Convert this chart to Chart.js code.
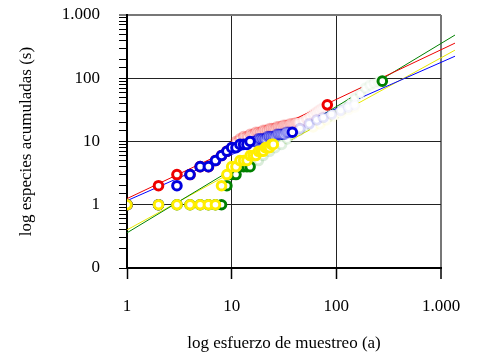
<!DOCTYPE html>
<html>
<head>
<meta charset="utf-8">
<script src="https://cdn.jsdelivr.net/npm/chart.js@4"></script>
<style>
  html, body { margin: 0; padding: 0; background: #fff; }
  #chart { display: block; }
</style>
</head>
<body>
<canvas id="chart" width="477" height="356"></canvas>
<script>
// ticks de los ejes
const xTickValues = [1, 10, 100, 1000];
const xTickLabels = ['1', '10', '100', '1.000'];
const yTickValues = [0.1, 1, 10, 100, 1000];
const yTickLabels = ['0', '1', '10', '100', '1.000'];

// serie roja
const redX = [1, 2, 3, 4, 5, 6, 7, 8, 9, 82];
const redY = [1, 2, 3, 3, 4, 4, 5, 6, 7, 38];
const redFadeX = [10, 11, 12, 13, 14, 15, 16, 17, 18, 19, 20, 21, 22, 23, 24, 25, 26, 27, 28, 29, 30, 31, 32, 33, 34, 35, 36, 37, 38, 39, 40, 41, 42, 43, 44, 48, 52, 56, 60, 64, 68, 72, 76, 80];
const redFadeY = [8, 10, 11, 12, 12, 13, 13, 14, 14, 14, 15, 15, 15, 16, 16, 16, 16, 17, 17, 17, 17, 18, 18, 18, 18, 18, 19, 19, 19, 19, 19, 20, 20, 20, 20, 21, 23, 25, 27, 29, 31, 33, 35, 37];
const redFitX = [1, 1360];
const redFitY = [1.25, 359];

// serie azul
const blueX = [1, 2, 3, 4, 5, 6, 7, 8, 9, 10, 11, 12, 13, 14, 15, 38];
const blueY = [1, 1, 2, 3, 4, 4, 5, 6, 7, 8, 8, 9, 9, 9, 10, 14];
const blueFadeX = [16, 17, 18, 19, 20, 21, 22, 23, 24, 25, 26, 27, 28, 29, 30, 31, 32, 33, 34, 35, 36, 37, 45, 55, 65, 75, 90, 110, 130, 150];
const blueFadeY = [10, 10, 11, 11, 11, 11, 12, 12, 12, 12, 12, 13, 13, 13, 13, 13, 13, 14, 14, 14, 14, 14, 16, 19, 22, 24, 27, 31, 35, 38];
const blueFitX = [1, 1360];
const blueFitY = [1.16, 223];

// serie verde
const greenX = [1, 2, 3, 4, 5, 6, 7, 8, 9, 10, 11, 12, 13, 14, 15, 275];
const greenY = [1, 1, 1, 1, 1, 1, 1, 1, 2, 3, 3, 4, 4, 4, 4, 90];
const greenFadeX = [16, 18, 20, 23, 26, 30, 34, 38, 44, 50, 58, 66, 75, 85, 96, 108, 120, 135, 150, 170, 190, 210, 230, 250, 265];
const greenFadeY = [5, 5, 6, 7, 8, 9, 11, 13, 15, 17, 19, 21, 23, 25, 27, 30, 34, 40, 48, 57, 70, 78, 84, 88, 89];
const greenFitX = [1, 1360];
const greenFitY = [0.36, 482];

// serie amarilla
const yellowX = [1, 2, 3, 4, 5, 6, 7, 8, 9, 10, 11, 12, 13, 14, 15, 16, 17, 18, 19, 20, 21, 22, 23, 24, 25];
const yellowY = [1, 1, 1, 1, 1, 1, 1, 2, 3, 4, 4, 5, 5, 5, 6, 6, 6, 7, 7, 7, 8, 8, 8, 9, 9];
const yellowFadeX = [60, 70, 80, 95, 110, 130, 150];
const yellowFadeY = [17, 19, 22, 25, 28, 32, 35];
const yellowFitX = [1, 1360];
const yellowFitY = [0.40, 278];

function pts(xs, ys) {
    return xs.map((x, i) => ({ x: x, y: ys[i] }));
}

// color que se desvanece a lo largo de la serie
function fade(rgb, a0, a1) {
    return function(ctx) {
        const n = ctx.dataset.data.length;
        const i = ctx.dataIndex || 0;
        const t = n > 1 ? i / (n - 1) : 0;
        return 'rgba(' + rgb + ',' + (a0 + (a1 - a0) * t) + ')';
    };
}

function solid(data, color, order) {
    return {
        data: data,
        borderColor: color,
        backgroundColor: '#ffffff',
        pointRadius: 4.3,
        borderWidth: 3,
        order: order
    };
}

function faded(data, rgb, a0, a1, order) {
    return {
        data: data,
        borderColor: fade(rgb, a0, a1),
        backgroundColor: '#ffffff',
        pointRadius: 4.3,
        borderWidth: 3,
        order: order
    };
}

function fit(data, color) {
    return {
        data: data,
        showLine: true,
        borderColor: color,
        borderWidth: 1,
        pointRadius: 0,
        clip: false,
        order: 20
    };
}

function sameValue(a, b) {
    return Math.abs(Math.log10(a) - Math.log10(b)) < 1e-6;
}

Chart.defaults.font.family = "'Liberation Serif', 'Times New Roman', serif";
Chart.defaults.font.size = 17;
Chart.defaults.color = '#000';

const ctx = document.getElementById('chart');
new Chart(ctx.getContext('2d'), {
    type: 'scatter',
    data: {
        datasets: [
            fit(pts(redFitX, redFitY), '#ee0000'),
            fit(pts(blueFitX, blueFitY), '#0000ff'),
            fit(pts(greenFitX, greenFitY), '#008000'),
            fit(pts(yellowFitX, yellowFitY), '#e8e800'),
            faded(pts(greenFadeX, greenFadeY), '0,128,0', 0.15, 0.03, 12),
            faded(pts(yellowFadeX, yellowFadeY), '255,235,0', 0.08, 0.03, 11),
            faded(pts(redFadeX, redFadeY), '238,0,0', 0.3, 0.03, 10),
            faded(pts(blueFadeX, blueFadeY), '0,0,220', 0.6, 0.02, 9),
            solid(pts(redX, redY), '#ee0000', 4),
            solid(pts(greenX, greenY), '#008000', 3),
            solid(pts(blueX, blueY), '#0000dd', 2),
            solid(pts(yellowX, yellowY), '#ffee00', 1)
        ]
    },
    options: {
        responsive: false,
        animation: false,
        events: [],
        layout: { padding: { top: 15, right: 36, bottom: 0, left: 0 } },
        plugins: {
            legend: { display: false },
            tooltip: { enabled: false }
        },
        scales: {
            x: {
                type: 'logarithmic',
                min: 1,
                max: 1000,
                afterBuildTicks: function(scale) {
                    scale.ticks = xTickValues.map(v => ({ value: v }));
                },
                afterFit: function(scale) { scale.height = 88; },
                border: { display: true, color: '#000', width: 2 },
                grid: {
                    color: function(c) {
                        const v = c.tick ? c.tick.value : 0;
                        if (sameValue(v, 1000)) return '#777';
                        if (sameValue(v, 1)) return 'rgba(0,0,0,0)';
                        return '#222';
                    },
                    lineWidth: function(c) {
                        return c.tick && sameValue(c.tick.value, 1000) ? 2 : 1;
                    },
                    tickColor: '#000',
                    // el hueco hasta la etiqueta va en la marca (solo 10 px visibles)
                    tickLength: 28,
                    tickBorderDash: [10, 100],
                    tickWidth: 1.5
                },
                ticks: {
                    autoSkip: false,
                    maxRotation: 0,
                    padding: 0,
                    callback: function(value) {
                        const i = xTickValues.findIndex(t => sameValue(t, value));
                        return i >= 0 ? xTickLabels[i] : '';
                    }
                },
                title: {
                    display: true,
                    text: 'log esfuerzo de muestreo (a)',
                    padding: { top: 0, bottom: 2 }
                }
            },
            y: {
                type: 'logarithmic',
                min: 0.1,
                max: 1000,
                afterFit: function(scale) { scale.width = 127; },
                border: { display: true, color: '#000', width: 2 },
                grid: {
                    color: function(c) {
                        const v = c.tick ? c.tick.value : 0;
                        if (sameValue(v, 1000)) return '#777';
                        if (yTickValues.some(t => sameValue(t, v)) && !sameValue(v, 0.1)) return '#222';
                        return 'rgba(0,0,0,0)';
                    },
                    lineWidth: function(c) {
                        return c.tick && sameValue(c.tick.value, 1000) ? 2 : 1;
                    },
                    tickColor: '#000',
                    // marca de 8 px pegada al eje, el resto es separación
                    tickLength: 27,
                    tickBorderDash: [0, 19, 8, 100],
                    tickWidth: 1
                },
                ticks: {
                    autoSkip: false,
                    padding: 0,
                    callback: function(value) {
                        const i = yTickValues.findIndex(t => sameValue(t, value));
                        return i >= 0 ? yTickLabels[i] : '';
                    }
                },
                title: {
                    display: true,
                    text: 'log especies acumuladas (s)',
                    padding: { top: 16, bottom: 0 }
                }
            }
        }
    }
});
</script>
</body>
</html>
